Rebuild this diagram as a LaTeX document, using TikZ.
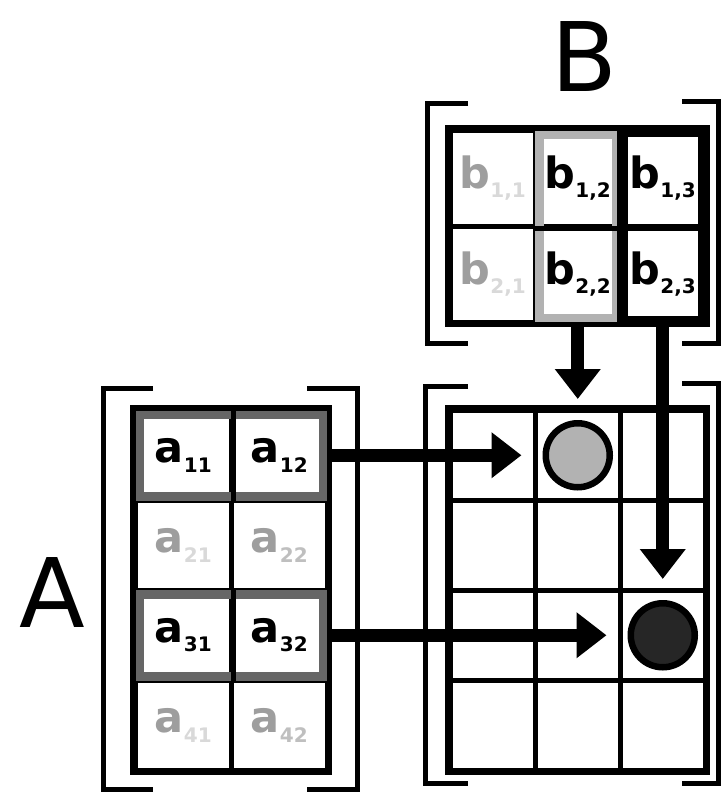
\documentclass[tikz,border=0pt]{standalone}
\usepackage{fontspec}
\setmainfont{DejaVu Sans}
\usetikzlibrary{arrows.meta,calc}
\newcommand\subtxt[1]{\raisebox{-0.22em}{\fontsize{20}{20}\selectfont #1}}
\begin{document}
\begin{tikzpicture}[x=1pt,y=-1pt,
  cellA/.style={draw=black,line width=4.5pt,minimum width=96pt,minimum height=90pt,inner sep=0pt,anchor=north west},
  cellB/.style={draw=black,line width=4.5pt,minimum width=85pt,minimum height=96pt,inner sep=0pt,anchor=north west},
  cellC/.style={draw=black,line width=4.5pt,minimum width=85pt,minimum height=90pt,inner sep=0pt,anchor=north west},
  strong/.style={font=\fontsize{43}{43}\selectfont\bfseries,text=black},
  faded/.style={font=\fontsize{43}{43}\selectfont\bfseries,text=black!38},
  frame/.style={draw=black,line width=5.5pt},
  brk/.style={draw=black,line width=5pt,miter limit=10},
  hlgray/.style={draw=black!60,line width=9pt},
  hllight/.style={draw=black!30,line width=9pt},
  hldark/.style={draw=black,line width=11pt},
  bigarrow/.style={draw=black,line width=13pt,-{Triangle[length=30pt,width=44pt]},shorten >=21pt},
  dotL/.style={circle,draw=black,line width=6.5pt,fill=black!30,minimum size=64pt,inner sep=0pt},
  dotD/.style={circle,draw=black,line width=6.5pt,fill=black!85,minimum size=64pt,inner sep=0pt},
  big/.style={font=\fontsize{96}{96}\selectfont}
]
\fill[white] (0,0) rectangle (722,792);
\useasboundingbox (0,0) rectangle (722,792);

% labels
\node[big] (labB) at (584,57) {B};
\node[big] (labA) at (52,592) {A};

% ---- matrix A ----
\node[cellA,strong] (a11) at (133,408) {a\subtxt{11}};
\node[cellA,strong] (a12) at (229,408) {a\subtxt{12}};
\node[cellA,faded]  (a21) at (133,498) {a\subtxt{\color{black!15}21}};
\node[cellA,faded]  (a22) at (229,498) {a\subtxt{\color{black!25}22}};
\node[cellA,strong] (a31) at (133,588) {a\subtxt{31}};
\node[cellA,strong] (a32) at (229,588) {a\subtxt{32}};
\node[cellA,faded]  (a41) at (133,678) {a\subtxt{\color{black!15}41}};
\node[cellA,faded]  (a42) at (229,678) {a\subtxt{\color{black!25}42}};
\draw[hlgray] ($(a11.north west)+(6,6)$) rectangle ($(a12.south east)+(-6,-6)$);
\draw[hlgray] ($(a31.north west)+(6,6)$) rectangle ($(a32.south east)+(-6,-6)$);
\draw[black,line width=4.5pt] (a11.north east) -- (a11.south east);
\draw[black,line width=4.5pt] (a31.north east) -- (a31.south east);
\draw[frame] (a11.north west) rectangle (a42.south east);
\draw[brk] (153,388) -- (103,388) -- (103,789) -- (153,789);
\draw[brk] (307,388) -- (357,388) -- (357,789) -- (307,789);

% ---- matrix B ----
\node[cellB,faded]  (b11) at (448,128) {b\subtxt{\color{black!15}1,1}};
\node[cellB,strong] (b12) at (533,128) {b\subtxt{1,2}};
\node[cellB,strong] (b13) at (618,128) {b\subtxt{1,3}};
\node[cellB,faded]  (b21) at (448,224) {b\subtxt{\color{black!15}2,1}};
\node[cellB,strong] (b22) at (533,224) {b\subtxt{2,2}};
\node[cellB,strong] (b23) at (618,224) {b\subtxt{2,3}};
\draw[hllight] ($(b12.north west)+(6,6)$) rectangle ($(b22.south east)+(-6,-6)$);
\draw[hldark] ($(b13.north west)+(4,3)$) rectangle ($(b23.south east)+(-4,-3)$);
\draw[black,line width=4.5pt] (b12.south west) -- (b12.south east);
\draw[black,line width=4pt] (b13.south west) -- (b13.south east);
\draw[frame] (b11.north west) rectangle (b23.south east);
\draw[brk] (468,103) -- (427,103) -- (427,343) -- (468,343);
\draw[brk] (682,101) -- (718,101) -- (718,343) -- (682,343);

% ---- matrix C ----
\foreach \r/\y in {1/408,2/498,3/588,4/678}{
  \node[cellC] (c\r1) at (448,\y) {};
  \node[cellC] (c\r2) at (533,\y) {};
  \node[cellC] (c\r3) at (618,\y) {};
}
\draw[frame] (c11.north west) rectangle (c43.south east);
\draw[brk] (468,386) -- (425,386) -- (425,783) -- (468,783);
\draw[brk] (682,383) -- (718,383) -- (718,783) -- (682,783);

\node[dotL] (d12) at (c12) {};
\node[dotD] (d33) at (c33) {};

% ---- arrows ----
\draw[bigarrow] (a12.east) -- (d12);
\draw[bigarrow] (a32.east) -- (d33);
\draw[bigarrow] (b22.south) -- (d12);
\draw[bigarrow] (b23.south) -- (d33);
\end{tikzpicture}
\end{document}
